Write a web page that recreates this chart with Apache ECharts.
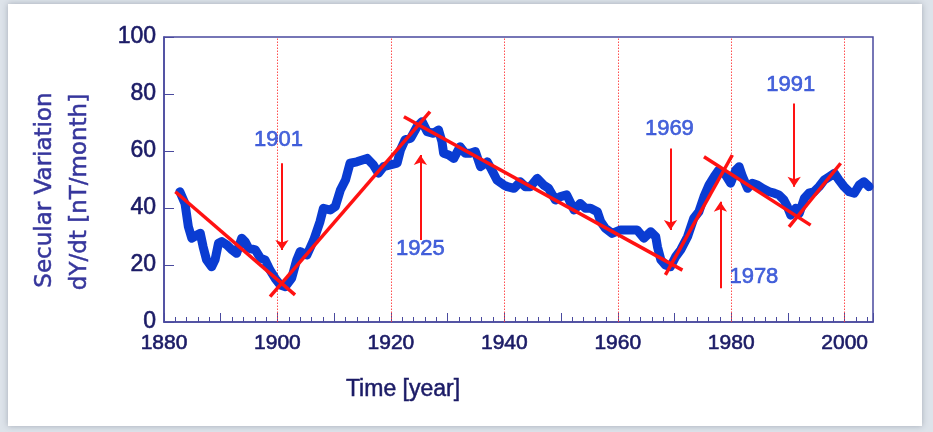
<!DOCTYPE html>
<html>
<head>
<meta charset="utf-8">
<script src="https://cdn.jsdelivr.net/npm/echarts@6/dist/echarts.min.js"></script>
<style>
  html, body { margin: 0; padding: 0; background: #dde3ea; }
  #chart { width: 933px; height: 432px; }
</style>
</head>
<body>
<div id="chart"></div>
<script>
// Secular variation of the Y (east) component, dY/dt in nT/month
const years = [
  1882.8, 1883.7, 1884.3, 1884.9, 1885.8, 1886.4, 1886.9, 1887.5, 1888.4, 1889.0,
  1889.6, 1890.2, 1891.1, 1892.0, 1892.8, 1893.7, 1894.3, 1894.9, 1896.1, 1897.0,
  1897.8, 1898.7, 1899.6, 1900.5, 1901.4, 1902.5, 1903.4, 1904.0, 1905.2, 1906.4,
  1907.5, 1908.1, 1909.3, 1910.2, 1911.1, 1912.0, 1912.8, 1914.0, 1915.8, 1916.9,
  1917.8, 1918.7, 1919.9, 1921.1, 1921.7, 1922.5, 1923.5, 1924.6, 1925.5, 1926.4,
  1927.5, 1928.4, 1929.0, 1929.3, 1930.2, 1931.1, 1932.2, 1933.1, 1934.0, 1934.9,
  1935.8, 1937.0, 1937.8, 1938.7, 1939.9, 1940.5, 1941.7, 1942.8, 1943.7, 1944.6,
  1945.8, 1946.9, 1947.8, 1949.0, 1949.9, 1951.0, 1952.3, 1953.4, 1954.3, 1955.2,
  1956.4, 1957.0, 1957.8, 1959.0, 1960.5, 1962.3, 1963.4, 1964.6, 1965.8, 1966.7,
  1967.0, 1967.6, 1968.4, 1969.3, 1970.2, 1971.1, 1972.3, 1973.4, 1974.3, 1975.2,
  1976.1, 1977.0, 1977.8, 1979.0, 1979.9, 1980.8, 1981.4, 1982.0, 1982.9, 1983.7,
  1984.6, 1985.5, 1986.7, 1987.6, 1988.4, 1989.3, 1989.9, 1990.5, 1991.4, 1992.0,
  1992.9, 1993.7, 1994.6, 1995.5, 1996.4, 1997.3, 1998.2, 1999.0, 1999.9, 2000.8,
  2001.7, 2002.6, 2003.4, 2004.3
];
const dYdt = [
  45.7, 41.6, 33.4, 29.4, 30.5, 31.1, 26.4, 21.8, 19.4, 21.8,
  27.6, 28.2, 27.0, 25.3, 24.1, 29.4, 28.2, 25.9, 25.3, 22.4,
  21.8, 18.2, 15.3, 13.0, 12.4, 15.3, 21.8, 24.7, 23.5, 28.8,
  35.2, 39.9, 39.3, 40.5, 46.3, 49.8, 55.7, 56.2, 57.4, 55.1,
  52.2, 54.5, 55.1, 55.7, 60.4, 63.9, 64.5, 68.5, 70.3, 66.8,
  66.2, 67.4, 63.3, 59.2, 58.6, 57.4, 61.5, 59.2, 59.2, 59.8,
  54.5, 56.2, 53.3, 49.8, 48.1, 47.5, 46.9, 49.2, 47.5, 47.5,
  50.4, 48.1, 46.9, 42.8, 44.0, 44.6, 39.3, 41.6, 39.9, 39.9,
  38.7, 35.2, 32.9, 31.1, 32.3, 32.3, 32.3, 29.4, 31.7, 29.9,
  26.4, 21.8, 20.0, 19.4, 22.9, 25.3, 29.9, 36.4, 38.7, 44.0,
  48.1, 51.0, 53.3, 51.6, 48.7, 53.3, 54.5, 51.0, 46.9, 48.7,
  48.1, 46.9, 45.7, 45.2, 44.6, 42.8, 40.5, 37.5, 39.9, 38.1,
  43.4, 45.2, 45.7, 47.5, 49.8, 51.0, 52.2, 49.8, 47.5, 45.7,
  45.2, 48.1, 49.2, 47.5
];

// Straight-line trends between the jerks
const trendFromYear  = [1882.0, 1898.7, 1922.3, 1968.4, 1975.2, 1990.2];
const trendFromValue = [45.7, 8.9, 72.0, 16.5, 58.0, 33.4];
const trendToYear    = [1903.1, 1926.9, 1971.4, 1980.2, 1994.0, 1999.3];
const trendToValue   = [9.5, 73.8, 18.2, 58.6, 34.0, 55.7];

// Arrows pointing at each jerk, and their year labels
const arrowYears = [1900.8, 1925.2, 1969.3, 1978.1, 1991.1];
const arrowFrom  = [55.7, 28.8, 60.9, 11.8, 76.7];
const arrowTo    = [25.3, 58.6, 32.3, 42.2, 47.5];
const jerkLabels     = ['1901', '1925', '1969', '1978', '1991'];
const jerkLabelYear  = [1900.2, 1925.2, 1969.1, 1984.0, 1990.5];
const jerkLabelValue = [63.9, 25.7, 67.7, 15.9, 83.2];

// Dotted reference lines every twenty years
const referenceYears = [1900, 1920, 1940, 1960, 1980, 2000];

const NAVY = '#1b1b66';
const FRAME = '#4a4a9e';
const BLUE = '#0a3cd2';
const RED = '#ff1212';
const heavy = color => ({ textBorderColor: color, textBorderWidth: 0.6 });

const chart = echarts.init(document.getElementById('chart'), null, { renderer: 'canvas' });

const option = {
  animation: false,
  backgroundColor: '#dde3ea',
  graphic: [
    {
      type: 'rect', z: -10,
      shape: { x: 8, y: 4, width: 914, height: 422 },
      style: { fill: '#ffffff', shadowBlur: 6, shadowColor: 'rgba(60,70,90,0.35)' }
    },
    {
      type: 'text', z: 10, x: 45, y: 190, rotation: Math.PI / 2,
      style: Object.assign({ text: 'Secular Variation', fill: '#36369c', font: '23px "DejaVu Sans"',
               textAlign: 'center', textVerticalAlign: 'middle' }, { stroke: '#36369c', lineWidth: 0.5 })
    },
    {
      type: 'text', z: 10, x: 80, y: 192, rotation: Math.PI / 2,
      style: Object.assign({ text: 'dY/dt [nT/month]', fill: '#36369c', font: '23px "DejaVu Sans"',
               textAlign: 'center', textVerticalAlign: 'middle' }, { stroke: '#36369c', lineWidth: 0.5 })
    },
    {
      type: 'text', z: 10, x: 403, y: 390,
      style: { text: 'Time [year]', fill: NAVY, stroke: NAVY, lineWidth: 0.5,
               font: '23px "Liberation Sans Narrow", "Liberation Sans"',
               textAlign: 'center', textVerticalAlign: 'middle' }
    }
  ],
  grid: {
    left: 164, right: 60, top: 37, bottom: 110,
    show: true, backgroundColor: '#ffffff', borderColor: FRAME, borderWidth: 1.5
  },
  xAxis: [
    {
      type: 'value', min: 1880, max: 2005, interval: 2, position: 'bottom',
      axisLine: { show: true, lineStyle: { color: FRAME, width: 1.5 } },
      axisTick: { show: true, inside: true, length: 5, lineStyle: { color: FRAME, width: 1 } },
      axisLabel: { show: false },
      splitLine: { show: false }
    },
    {
      type: 'value', min: 1880, max: 2005, interval: 10, position: 'bottom',
      axisLine: { show: false },
      axisTick: { show: true, inside: true, length: 9, lineStyle: { color: FRAME, width: 1 } },
      axisLabel: Object.assign({
        show: true, margin: 11, color: NAVY,
        fontFamily: '"Liberation Sans Narrow", "Liberation Sans"', fontSize: 21,
        formatter: v => (v % 20 === 0 ? String(v) : '')
      }, heavy(NAVY)),
      splitLine: { show: false }
    }
  ],
  yAxis: {
    type: 'value', min: 0, max: 100, interval: 20,
    axisLine: { show: true, lineStyle: { color: FRAME, width: 1.5 } },
    axisTick: { show: true, inside: true, length: 10, lineStyle: { color: FRAME, width: 1 } },
    axisLabel: Object.assign({ margin: 8, color: NAVY, fontFamily: '"Liberation Sans"', fontSize: 23 }, heavy(NAVY)),
    splitLine: { show: false }
  },
  series: [
    {
      name: 'reference', type: 'lines', coordinateSystem: 'cartesian2d', z: 1, silent: true,
      data: referenceYears.map(y => ({ coords: [[y, 0], [y, 100]] })),
      lineStyle: { color: '#ff3c3c', type: [1.5, 1.5], width: 1, opacity: 0.9 }
    },
    {
      name: 'dY/dt', type: 'line', z: 3,
      data: years.map((y, i) => [y, dYdt[i]]),
      showSymbol: false, smooth: false,
      lineStyle: { color: BLUE, width: 9, cap: 'round', join: 'round' }
    },
    {
      name: 'trend', type: 'lines', coordinateSystem: 'cartesian2d', z: 4,
      data: trendFromYear.map((y, i) => ({
        coords: [[y, trendFromValue[i]], [trendToYear[i], trendToValue[i]]]
      })),
      lineStyle: { color: RED, width: 3.5, opacity: 1 }
    },
    {
      name: 'arrows', type: 'lines', coordinateSystem: 'cartesian2d', z: 4,
      symbol: ['none', 'arrow'], symbolSize: 10,
      data: arrowYears.map((y, i) => ({ coords: [[y, arrowFrom[i]], [y, arrowTo[i]]] })),
      lineStyle: { color: RED, width: 2, opacity: 1 }
    },
    {
      name: 'jerks', type: 'scatter', z: 5, symbolSize: 0,
      data: jerkLabels.map((t, i) => ({ name: t, value: [jerkLabelYear[i], jerkLabelValue[i]] })),
      label: Object.assign({
        show: true, position: 'inside', formatter: p => p.name,
        color: '#1c3fd2', fontFamily: '"Liberation Sans"', fontSize: 22
      }, heavy('#1c3fd2'))
    }
  ]
};

chart.setOption(option);
</script>
</body>
</html>
